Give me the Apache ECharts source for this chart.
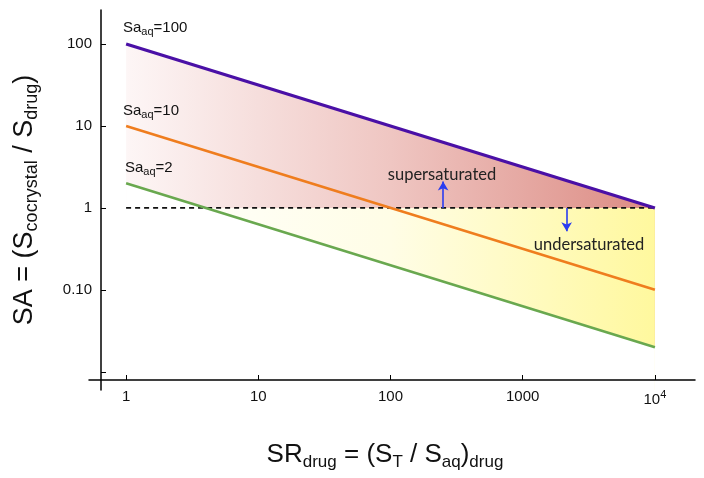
<!DOCTYPE html>
<html>
<head>
<meta charset="utf-8">
<script src="https://cdn.jsdelivr.net/npm/echarts@6/dist/echarts.min.js"></script>
<style>html,body{margin:0;padding:0;background:#fff}#c{width:704px;height:478px}</style>
</head>
<body>
<div id="c"></div>
<script>
// ---- data ----
const srDrug = [1, 10000];
const saaq100 = [100, 1];
const saaq10 = [10, 0.1];
const saaq2 = [2, 0.02];
const thresholdSA = [1, 1];
const upArrowX = [250];
const upArrowY = [1, 2.1];
const downArrowX = [2150];
const downArrowY = [1, 0.52];
const xTickLabels = {'1': '{b|1}', '10': '{b|10}', '100': '{b|100}', '1000': '{b|1000}', '10000': '{b|10}{s|4}'};
const yTickLabels = {'100': '100', '10': '10', '1': '1', '0.1': '0.10'};

const pts = (xs, ys) => xs.map((x, i) => [x, ys[i]]);

const chart = echarts.init(document.getElementById('c'), null, {renderer: 'canvas'});
const XMIN = 0.524, XMAX = 20100, YMIN = 0.006, YMAX = 260;
const lblFont = 'Liberation Sans, Arial, sans-serif';

chart.setOption({
  animation: false,
  backgroundColor: '#fff',
  grid: {left: 89, right: 9, top: 10, bottom: 88, containLabel: false},
  xAxis: {
    type: 'log', logBase: 10, min: XMIN, max: XMAX, position: 'bottom', offset: -10, z: 10, splitLine: {show: false},
    axisLine: {show: true, lineStyle: {color: '#000', width: 1.5}},
    axisTick: {show: true, inside: true, length: 5, lineStyle: {color: '#000', width: 1}},
    axisLabel: {
      show: true, margin: 9, showMinLabel: false, showMaxLabel: false, color: '#111', fontSize: 15, fontFamily: lblFont,
      formatter: v => xTickLabels[String(+v.toPrecision(3))] || '',
      rich: {b: {fontSize: 15, fontFamily: lblFont, color: '#111'}, s: {fontSize: 11, fontFamily: lblFont, color: '#111', verticalAlign: 'bottom', padding: [0, 0, 10, 0]}}
    }
  },
  yAxis: {
    type: 'log', logBase: 10, min: YMIN, max: YMAX, position: 'left', offset: -12, z: 10, splitLine: {show: false},
    axisLine: {show: true, lineStyle: {color: '#000', width: 1.5}},
    axisTick: {show: true, inside: true, length: 5, lineStyle: {color: '#000', width: 1}},
    axisLabel: {
      show: true, margin: 9, showMinLabel: false, showMaxLabel: false, color: '#111', fontSize: 15, fontFamily: lblFont,
      formatter: v => yTickLabels[String(+v.toPrecision(3))] || ''
    }
  },
  series: [
    {
      name: 'supersaturated fill', type: 'line', data: pts(srDrug, saaq100), symbol: 'none', z: 1,
      lineStyle: {width: 0},
      areaStyle: {origin: 'start', opacity: 1, color: {type: 'linear', x: 0, y: 0, x2: 1, y2: 0,
        colorStops: [{offset: 0, color: '#fdf6f6'}, {offset: 0.5, color: '#efc6c2'}, {offset: 1, color: '#dc8b83'}]}}
    },
    {
      name: 'undersaturated fill', type: 'line', data: pts(srDrug, thresholdSA), symbol: 'none', z: 1,
      lineStyle: {width: 0},
      areaStyle: {origin: 'start', opacity: 1, color: {type: 'linear', x: 0, y: 0, x2: 1, y2: 0,
        colorStops: [{offset: 0, color: '#ffffff'}, {offset: 0.5, color: '#fffde6'}, {offset: 1, color: '#fff89e'}]}}
    },
    {
      name: 'below fill', type: 'line', data: pts(srDrug, saaq2), symbol: 'none', z: 1,
      lineStyle: {width: 0},
      areaStyle: {origin: 'start', opacity: 1, color: '#ffffff'}
    },
    {
      name: 'threshold', type: 'line', data: pts(srDrug, thresholdSA), symbol: 'none', z: 3,
      lineStyle: {color: '#111', width: 1.6, type: [5, 4]},
      markLine: {
        silent: true, symbol: ['none', 'arrow'], symbolSize: [8, 9],
        lineStyle: {color: '#2a3cf0', width: 1.6, type: 'solid'}, label: {show: false},
        data: [
          [{coord: [upArrowX[0], upArrowY[0]]}, {coord: [upArrowX[0], upArrowY[1]]}],
          [{coord: [downArrowX[0], downArrowY[0]]}, {coord: [downArrowX[0], downArrowY[1]]}]
        ]
      }
    },
    {name: 'Saaq=100', type: 'line', data: pts(srDrug, saaq100), symbol: 'none', z: 4, lineStyle: {color: '#4a10a6', width: 3.2}},
    {name: 'Saaq=10', type: 'line', data: pts(srDrug, saaq10), symbol: 'none', z: 4, lineStyle: {color: '#ef7d1e', width: 2.6}},
    {name: 'Saaq=2', type: 'line', data: pts(srDrug, saaq2), symbol: 'none', z: 4, lineStyle: {color: '#69a84f', width: 2.6}}
  ],
  graphic: [
    {type: 'text', left: 123, top: 20, z: 20, style: {text: 'Sa{s|aq}=100', font: '15px ' + lblFont, fill: '#111', rich: {s: {fontSize: 11, fontFamily: lblFont, fill: '#111', verticalAlign: 'bottom', padding: [8, 0, 0, 0]}}}},
    {type: 'text', left: 123, top: 103, z: 20, style: {text: 'Sa{s|aq}=10', font: '15px ' + lblFont, fill: '#111', rich: {s: {fontSize: 11, fontFamily: lblFont, fill: '#111', verticalAlign: 'bottom', padding: [8, 0, 0, 0]}}}},
    {type: 'text', left: 125, top: 160, z: 20, style: {text: 'Sa{s|aq}=2', font: '15px ' + lblFont, fill: '#111', rich: {s: {fontSize: 11, fontFamily: lblFont, fill: '#111', verticalAlign: 'bottom', padding: [8, 0, 0, 0]}}}},
    {type: 'text', x: 442, y: 175, z: 20, style: {text: 'supersaturated', font: '16.5px Lato, sans-serif', fill: '#222', align: 'center', verticalAlign: 'middle'}},
    {type: 'text', x: 589, y: 245, z: 20, style: {text: 'undersaturated', font: '16.5px Lato, sans-serif', fill: '#222', align: 'center', verticalAlign: 'middle'}},
    {type: 'text', x: 25, y: 200, rotation: Math.PI / 2, z: 20,
      style: {text: 'SA = (S{s|cocrystal} / S{s|drug})', font: '27px ' + lblFont, fill: '#111', align: 'center', verticalAlign: 'middle',
        rich: {s: {fontSize: 18, fontFamily: lblFont, fill: '#111', verticalAlign: 'bottom', padding: [15, 0, 0, 0]}}}},
    {type: 'text', x: 385, y: 455, z: 20,
      style: {text: 'SR{s|drug} = (S{s|T} / S{s|aq}){s|drug}', font: '26px ' + lblFont, fill: '#111', align: 'center', verticalAlign: 'middle',
        rich: {s: {fontSize: 17, fontFamily: lblFont, fill: '#111', verticalAlign: 'bottom', padding: [15, 0, 0, 0]}}}}
  ]
});
</script>
</body>
</html>
